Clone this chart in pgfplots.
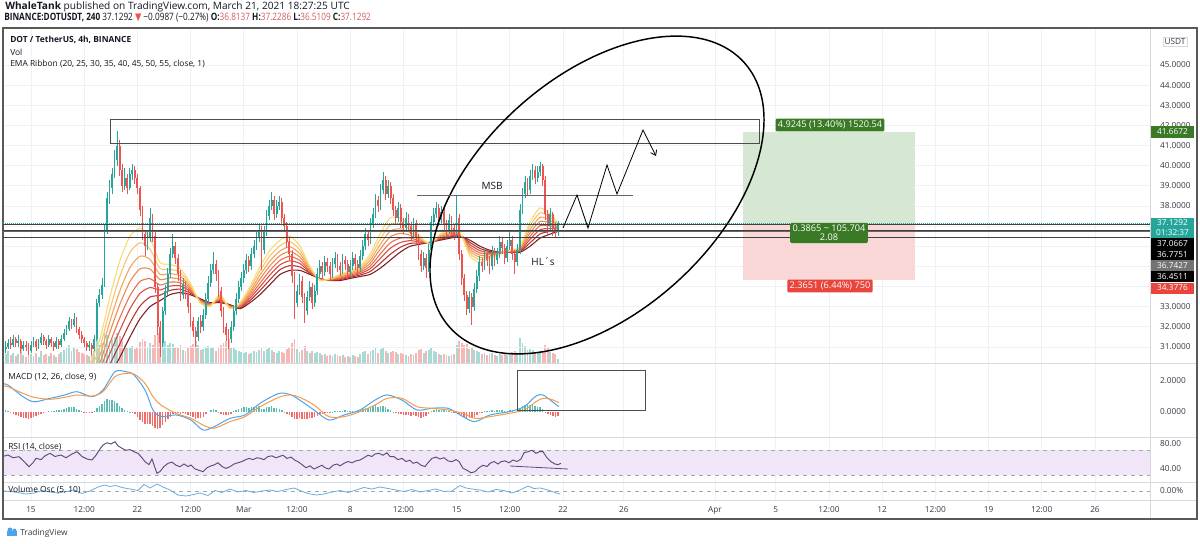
\documentclass[border=0pt]{standalone}
\usepackage{fontspec}
\setmainfont{Open Sans}
\newfontfamily\symfont{DejaVu Sans}
\usepackage{graphicx}
\usepackage{pgfplots}
\usepackage{pgfplotstable}
\pgfplotsset{compat=1.18}
\usetikzlibrary{arrows.meta}

\definecolor{upc}{HTML}{26A69A}
\definecolor{dnc}{HTML}{EF5350}
\definecolor{vup}{HTML}{A6DAD5}
\definecolor{vdn}{HTML}{F6B8B6}
\definecolor{gridc}{HTML}{EEF1F7}
\definecolor{sepc}{HTML}{D6D9E0}
\definecolor{txt}{HTML}{131722}
\definecolor{axt}{HTML}{363A45}
\definecolor{ohlc}{HTML}{D2605E}
\definecolor{posg}{HTML}{3A7A27}
\definecolor{posr}{HTML}{E8453C}
\definecolor{posgf}{HTML}{D6E7D3}
\definecolor{posrf}{HTML}{F9D7D6}
\definecolor{macdc}{HTML}{4FA3E8}
\definecolor{sigc}{HTML}{F59B4C}
\definecolor{rsic}{HTML}{5B4A7A}
\definecolor{rsif}{HTML}{F1E6F8}
\definecolor{voc}{HTML}{6AAED8}
\definecolor{ea}{HTML}{F7DC6F}
\definecolor{eb}{HTML}{F8C471}
\definecolor{ec}{HTML}{F5A55A}
\definecolor{ed}{HTML}{F08A4B}
\definecolor{ee}{HTML}{EB6E4B}
\definecolor{ef}{HTML}{DC4B43}
\definecolor{eg}{HTML}{B73333}
\definecolor{eh}{HTML}{7B1F1F}

\newcommand\axf{\fontsize{6.2}{7.4}\selectfont}
\newcommand\hdf{\fontsize{7.6}{9}\selectfont}
\newcommand\lgf{\fontsize{6.3}{7.6}\selectfont}
\newcommand\psf{\fontsize{6.9}{8}\selectfont}

% 4h candles: k = index of 4h bar from Feb 15 00:00, OHLC, volume (px), MACD histogram
\pgfplotstableread{
k o h l c v hist
-10 30.9 31.3 30.7 31.0 9 0.10
-9 31.0 31.4 30.9 31.2 12 0.05
-8 31.2 31.5 30.9 31.1 8 -0.05
-7 31.1 31.6 31.0 31.4 10 -0.12
-6 31.4 31.5 31.0 31.2 7 -0.20
-5 31.2 31.6 31.0 31.3 9 -0.28
-4 31.3 31.4 30.7 30.9 14 -0.35
-3 30.9 31.3 30.8 31.1 8 -0.38
-2 31.1 31.3 30.8 31.0 6 -0.40
-1 31.0 31.2 30.6 30.8 11 -0.42
0 30.8 31.3 30.7 31.1 9 -0.40
1 31.1 31.5 31.0 31.3 7 -0.35
2 31.3 31.4 30.8 31.0 10 -0.28
3 31.0 31.4 30.9 31.2 6 -0.20
4 31.2 31.7 31.1 31.5 12 -0.12
5 31.5 31.6 31.1 31.3 8 -0.05
6 31.3 31.4 30.9 31.1 9 0.00
7 31.1 31.6 31.0 31.4 7 0.05
8 31.4 31.5 31.0 31.2 10 0.08
9 31.2 31.3 30.8 31.0 8 0.06
10 31.0 31.5 30.9 31.3 6 0.10
11 31.3 31.4 30.9 31.1 9 0.12
12 31.1 31.6 31.0 31.4 11 0.15
13 31.4 31.9 31.3 31.7 13 0.20
14 31.7 32.1 31.6 31.9 15 0.25
15 31.9 32.5 31.8 32.3 18 0.30
16 32.3 32.4 31.9 32.1 12 0.32
17 32.1 32.7 32.0 32.4 16 0.30
18 32.4 32.5 31.7 31.9 14 0.22
19 31.9 32.0 31.4 31.6 11 0.12
20 31.6 31.8 31.2 31.4 10 0.05
21 31.4 31.5 31.0 31.2 9 -0.02
22 31.2 31.3 30.8 31.0 8 -0.06
23 31.0 31.3 30.8 31.1 7 -0.08
24 31.1 31.2 30.6 30.9 9 -0.06
25 30.9 31.6 30.8 31.4 12 0.05
26 31.4 33.4 31.3 33.2 24 0.25
27 33.2 33.9 33.0 33.6 18 0.40
28 33.6 34.4 33.4 34.1 20 0.50
29 34.1 37.1 34.0 36.8 30 0.70
30 36.8 38.7 36.6 38.4 28 0.85
31 38.4 39.3 38.1 38.9 22 0.80
32 38.9 39.9 38.6 39.6 24 0.75
33 39.6 40.8 39.4 40.3 26 0.70
34 40.3 41.7 40.0 41.0 30 0.60
35 41.0 41.3 39.5 39.8 27 0.40
36 39.8 40.1 38.7 39.0 22 0.25
37 39.0 39.9 38.8 39.4 18 0.15
38 39.4 39.6 38.6 38.9 16 0.05
39 38.9 39.9 38.8 39.6 15 0.02
40 39.6 40.1 39.3 39.8 17 -0.05
41 39.8 40.0 39.1 39.4 14 -0.15
42 39.4 39.6 38.6 38.9 16 -0.30
43 38.9 39.0 37.5 37.8 21 -0.50
44 37.8 38.0 36.3 36.6 24 -0.65
45 36.6 36.8 35.5 36.0 22 -0.75
46 36.0 36.7 35.8 36.4 16 -0.80
47 36.4 37.9 36.2 37.4 20 -0.78
48 37.4 37.6 36.2 36.5 18 -0.90
49 36.5 36.7 33.7 34.0 28 -1.05
50 34.0 34.2 31.6 32.0 30 -1.10
51 32.0 32.3 30.5 31.2 32 -1.00
52 31.2 33.0 31.0 32.8 26 -0.85
53 32.8 34.1 32.6 33.8 22 -0.65
54 33.8 34.9 33.6 34.6 18 -0.45
55 34.6 35.9 34.4 35.6 20 -0.30
56 35.6 36.6 35.4 36.0 19 -0.15
57 36.0 36.2 35.1 35.4 15 -0.10
58 35.4 35.6 34.3 34.6 16 -0.08
59 34.6 34.8 33.3 33.6 18 -0.10
60 33.6 34.4 33.4 34.1 13 -0.06
61 34.1 34.3 33.4 33.7 12 -0.10
62 33.7 33.9 32.7 33.0 15 -0.18
63 33.0 33.2 32.0 32.3 17 -0.25
64 32.3 32.5 31.5 31.8 19 -0.35
65 31.8 32.0 31.0 31.5 22 -0.45
66 31.5 32.5 31.3 32.3 18 -0.40
67 32.3 32.6 31.7 32.0 13 -0.38
68 32.0 32.9 31.8 32.6 14 -0.30
69 32.6 33.7 32.4 33.4 16 -0.15
70 33.4 34.5 33.2 34.2 17 0.00
71 34.2 35.1 34.0 34.8 15 0.12
72 34.8 35.7 34.6 35.1 16 0.18
73 35.1 35.3 34.3 34.6 12 0.12
74 34.6 34.8 33.5 33.8 15 0.02
75 33.8 34.0 32.5 32.8 18 -0.10
76 32.8 33.0 31.7 32.0 20 -0.18
77 32.0 32.2 31.3 31.6 22 -0.22
78 31.6 31.9 30.9 31.4 24 -0.20
79 31.4 32.3 31.2 32.0 16 -0.10
80 32.0 33.1 31.8 32.8 15 0.05
81 32.8 33.7 32.6 33.4 13 0.15
82 33.4 34.3 33.2 34.0 12 0.22
83 34.0 34.7 33.8 34.4 11 0.28
84 34.4 35.1 34.2 34.8 10 0.30
85 34.8 35.6 34.6 35.3 11 0.32
86 35.3 35.5 34.7 35.0 9 0.28
87 35.0 35.9 34.8 35.6 10 0.30
88 35.6 36.3 35.4 36.0 12 0.33
89 36.0 36.7 35.8 36.4 11 0.35
90 36.4 37.1 36.2 36.8 13 0.36
91 36.8 37.0 34.8 35.8 16 0.20
92 35.8 37.0 35.6 36.7 12 0.22
93 36.7 37.8 36.5 37.5 14 0.30
94 37.5 38.3 37.3 38.0 15 0.35
95 38.0 38.7 37.8 38.3 13 0.38
96 38.3 38.5 37.3 37.6 11 0.28
97 37.6 38.3 37.4 38.0 10 0.25
98 38.0 38.5 37.8 38.2 12 0.22
99 38.2 38.4 37.1 37.4 11 0.12
100 37.4 37.6 36.7 37.0 10 0.02
101 37.0 37.2 35.9 36.2 14 -0.10
102 36.2 36.4 35.3 35.6 16 -0.22
103 35.6 35.8 34.2 34.5 20 -0.35
104 34.5 34.7 32.4 33.2 24 -0.48
105 33.2 34.1 33.0 33.8 14 -0.45
106 33.8 34.6 33.6 34.3 11 -0.40
107 34.3 34.5 33.2 33.5 13 -0.42
108 33.5 33.7 32.2 32.8 17 -0.48
109 32.8 33.8 32.6 33.5 12 -0.42
110 33.5 34.3 33.3 34.0 10 -0.36
111 34.0 34.2 32.9 33.2 12 -0.38
112 33.2 34.1 33.0 33.8 10 -0.35
113 33.8 34.9 33.6 34.6 11 -0.25
114 34.6 35.3 34.4 35.0 10 -0.15
115 35.0 35.2 34.4 34.7 8 -0.12
116 34.7 35.5 34.5 35.2 9 -0.05
117 35.2 35.4 34.7 35.0 7 -0.03
118 35.0 35.2 34.3 34.6 8 -0.05
119 34.6 35.4 34.4 35.1 7 0.02
120 35.1 35.7 34.9 35.4 9 0.08
121 35.4 35.6 34.7 35.0 8 0.06
122 35.0 35.2 34.5 34.8 7 0.04
123 34.8 35.6 34.6 35.3 8 0.08
124 35.3 35.5 34.8 35.1 6 0.10
125 35.1 35.3 34.4 34.7 7 0.06
126 34.7 35.3 34.5 35.0 6 0.05
127 35.0 35.7 34.8 35.4 8 0.08
128 35.4 35.6 34.8 35.1 7 0.07
129 35.1 35.3 34.6 34.9 6 0.05
130 34.9 35.8 34.7 35.5 9 0.12
131 35.5 36.3 35.3 36.0 11 0.20
132 36.0 36.9 35.8 36.6 12 0.28
133 36.6 36.8 36.0 36.3 9 0.25
134 36.3 37.4 36.1 37.1 12 0.32
135 37.1 37.9 36.9 37.6 13 0.38
136 37.6 38.6 37.4 38.3 15 0.42
137 38.3 38.5 37.7 38.0 10 0.35
138 38.0 39.1 37.8 38.8 14 0.38
139 38.8 39.7 38.6 39.3 16 0.40
140 39.3 39.5 38.3 38.6 12 0.30
141 38.6 39.3 38.4 39.0 10 0.22
142 39.0 39.2 38.1 38.4 11 0.12
143 38.4 38.6 37.5 37.8 12 0.02
144 37.8 38.0 37.1 37.4 11 -0.08
145 37.4 38.2 37.2 37.9 9 -0.10
146 37.9 38.1 36.9 37.2 10 -0.15
147 37.2 37.4 36.6 36.9 9 -0.20
148 36.9 37.7 36.7 37.4 8 -0.18
149 37.4 37.6 36.7 37.0 7 -0.20
150 37.0 37.2 36.3 36.6 9 -0.24
151 36.6 37.4 36.4 37.1 8 -0.20
152 37.1 37.3 36.1 36.4 10 -0.25
153 36.4 36.6 35.3 35.6 13 -0.32
154 35.6 35.8 34.7 35.0 14 -0.36
155 35.0 35.7 34.8 35.4 10 -0.30
156 35.4 35.6 34.4 34.9 12 -0.28
157 34.9 36.1 34.7 35.8 13 -0.15
158 35.8 37.5 35.6 37.2 16 0.05
159 37.2 37.9 37.0 37.6 12 0.15
160 37.6 38.2 37.4 37.9 11 0.20
161 37.9 38.1 37.0 37.3 9 0.15
162 37.3 38.0 37.1 37.7 8 0.15
163 37.7 37.9 36.8 37.1 9 0.10
164 37.1 37.3 36.5 36.8 8 0.05
165 36.8 37.6 36.6 37.3 7 0.06
166 37.3 37.5 36.6 36.9 8 0.03
167 36.9 37.1 36.3 36.6 9 -0.02
168 36.6 38.5 36.4 37.4 18 0.02
169 37.4 37.6 35.3 35.6 22 -0.12
170 35.6 35.8 34.1 34.4 20 -0.25
171 34.4 34.6 33.3 33.6 18 -0.35
172 33.6 33.8 32.6 32.9 19 -0.42
173 32.9 33.8 32.7 33.5 14 -0.40
174 33.5 33.7 32.1 33.0 16 -0.38
175 33.0 34.2 32.8 33.9 13 -0.30
176 33.9 34.8 33.7 34.5 12 -0.20
177 34.5 35.5 34.3 35.2 11 -0.08
178 35.2 35.4 34.7 35.0 9 -0.02
179 35.0 35.9 34.8 35.6 10 0.06
180 35.6 35.8 35.0 35.3 8 0.08
181 35.3 35.5 34.6 35.0 9 0.06
182 35.0 36.0 34.8 35.7 10 0.10
183 35.7 35.9 35.0 35.3 8 0.08
184 35.3 35.9 35.1 35.6 7 0.10
185 35.6 36.5 35.4 36.2 9 0.14
186 36.2 36.4 35.6 35.9 8 0.12
187 35.9 36.1 35.1 35.4 9 0.06
188 35.4 36.3 35.2 36.0 8 0.08
189 36.0 36.8 35.8 36.3 10 0.12
190 36.3 36.5 35.3 35.6 11 0.06
191 35.6 35.8 34.6 35.2 12 0.00
192 35.2 36.1 35.0 35.8 10 0.05
193 35.8 38.1 35.6 37.8 25 0.25
194 37.8 38.9 37.6 38.6 20 0.38
195 38.6 39.5 38.4 39.2 17 0.45
196 39.2 39.4 38.5 38.8 13 0.42
197 38.8 39.8 38.6 39.5 14 0.45
198 39.5 40.1 39.3 39.8 13 0.48
199 39.8 40.0 39.1 39.4 11 0.40
200 39.4 40.0 39.2 39.7 10 0.35
201 39.7 40.2 39.5 40.0 12 0.32
202 40.0 40.1 39.0 39.3 11 0.20
203 39.3 39.5 37.3 37.6 18 -0.02
204 37.6 37.8 36.6 37.0 15 -0.15
205 37.0 37.9 36.8 37.6 11 -0.18
206 37.6 37.7 36.5 36.9 10 -0.25
207 36.9 37.2 36.4 36.81 9 -0.30
208 36.81 37.23 36.51 37.13 4 -0.28
}\candles

% EMA ribbon (px = horizontal pixel position of the sample)
\pgfplotstableread{
px e20 e25 e30 e35 e40 e45 e50 e55
90 30.20 29.85 29.52 29.21 28.90 28.62 28.31 28.00
100 31.40 30.98 30.59 30.23 29.87 29.53 29.16 28.80
110 33.50 32.88 32.29 31.75 31.20 30.69 30.15 29.60
120 35.30 34.53 33.81 33.14 32.47 31.84 31.17 30.50
130 36.50 35.70 34.95 34.25 33.55 32.90 32.20 31.50
140 36.90 36.18 35.51 34.88 34.25 33.66 33.03 32.40
150 36.40 35.86 35.35 34.87 34.39 33.95 33.48 33.00
160 35.20 34.90 34.61 34.35 34.08 33.83 33.57 33.30
170 35.10 34.86 34.64 34.43 34.22 34.02 33.81 33.60
180 34.90 34.71 34.53 34.36 34.19 34.04 33.87 33.70
190 34.20 34.10 34.01 33.93 33.85 33.77 33.68 33.60
200 33.20 33.23 33.26 33.29 33.32 33.34 33.37 33.40
210 33.00 33.03 33.06 33.09 33.12 33.14 33.17 33.20
220 33.60 33.54 33.48 33.42 33.36 33.31 33.26 33.20
230 32.90 32.93 32.96 32.99 33.02 33.04 33.07 33.10
240 33.20 33.15 33.11 33.07 33.02 32.98 32.94 32.90
250 34.00 33.87 33.75 33.64 33.53 33.42 33.31 33.20
260 35.00 34.78 34.57 34.37 34.17 33.99 33.80 33.60
270 35.80 35.53 35.27 35.04 34.80 34.58 34.34 34.10
280 36.30 36.03 35.77 35.54 35.30 35.08 34.84 34.60
290 36.50 36.23 35.97 35.74 35.50 35.28 35.04 34.80
300 36.00 35.81 35.63 35.46 35.29 35.14 34.97 34.80
310 35.00 34.94 34.88 34.82 34.76 34.71 34.66 34.60
320 34.30 34.32 34.33 34.35 34.36 34.37 34.39 34.40
330 34.40 34.38 34.37 34.36 34.34 34.33 34.31 34.30
340 34.60 34.55 34.51 34.47 34.42 34.38 34.34 34.30
350 34.80 34.74 34.68 34.62 34.56 34.51 34.46 34.40
360 35.00 34.92 34.85 34.78 34.71 34.64 34.57 34.50
370 35.60 35.44 35.29 35.15 35.01 34.88 34.74 34.60
380 36.60 36.33 36.07 35.84 35.60 35.38 35.14 34.90
390 37.40 37.06 36.75 36.46 36.16 35.89 35.59 35.30
400 37.40 37.13 36.87 36.64 36.40 36.18 35.94 35.70
410 37.00 36.84 36.69 36.55 36.41 36.28 36.14 36.00
420 36.50 36.44 36.38 36.32 36.26 36.21 36.16 36.10
430 36.10 36.12 36.13 36.15 36.16 36.17 36.19 36.20
440 36.60 36.55 36.51 36.47 36.42 36.38 36.34 36.30
450 36.80 36.74 36.68 36.62 36.56 36.51 36.46 36.40
460 36.70 36.67 36.64 36.61 36.58 36.56 36.53 36.50
470 35.50 35.63 35.75 35.86 35.97 36.08 36.19 36.30
480 35.20 35.33 35.45 35.56 35.67 35.78 35.89 36.00
490 35.40 35.46 35.52 35.58 35.64 35.69 35.74 35.80
500 35.60 35.62 35.63 35.65 35.66 35.67 35.69 35.70
510 35.80 35.78 35.77 35.76 35.74 35.73 35.71 35.70
520 36.00 35.95 35.91 35.87 35.82 35.78 35.74 35.70
530 37.20 37.01 36.83 36.66 36.49 36.34 36.17 36.00
540 37.90 37.66 37.44 37.23 37.02 36.82 36.61 36.40
550 37.60 37.44 37.29 37.15 37.01 36.88 36.74 36.60
559 37.10 37.04 36.99 36.94 36.89 36.85 36.80 36.75
}\ribbon

\pgfplotstableread{
px m s
3 1.80 1.68
8 1.74 1.63
23 0.99 1.20
34 0.66 0.95
50 0.88 0.82
65 1.10 0.95
77 1.31 1.10
92 0.99 1.03
103 1.42 1.31
115 2.60 2.28
126 2.60 2.49
134 2.39 2.45
145 1.42 1.85
153 0.13 0.99
161 -0.30 0.45
176 -0.19 -0.09
191 -0.52 -0.41
203 -1.16 -0.84
214 -0.95 -1.05
230 -0.41 -0.62
245 -0.19 -0.30
260 0.56 0.34
279 1.20 0.95
291 1.10 1.10
302 0.67 0.88
314 0.13 0.45
329 -0.52 -0.30
344 -0.19 -0.30
360 0.13 0.02
375 0.77 0.45
387 1.10 0.88
402 0.77 0.88
417 0.13 0.34
432 0.24 0.24
448 0.24 0.13
463 -0.30 -0.09
475 -0.62 -0.41
490 -0.19 -0.30
509 0.02 -0.09
524 0.34 0.13
536 1.03 0.67
543 1.10 0.88
551 0.73 0.82
559 0.34 0.60
}\macd

\pgfplotstableread{
px r
3 60
8 62.4
13 58
19 59.7
24 52
29 43.7
33 50
36 57.1
41 55
45 61
50 65.1
55 60
61 62.4
66 58
72 64
77 67.7
82 60
87 56
92 54.4
96 62
100 72
103 78.4
107 82
111 80
115 83.7
118 77
122 73.1
126 70
130 71
134 67.7
138 65
142 58
145 51.7
149 47
152 56
155 42
157 33.1
160 36
164 44
168 49.1
172 51
176 46
180 43.7
184 48
188 44
191 46.4
195 40
199 38
203 35.7
207 42
211 45
214 46.4
218 50
222 44
226 41
230 43.7
234 48
238 50
242 52
245 54.4
249 57
253 55
257 58
260 57.1
264 55
268 60
272 61
276 58
279 59.7
283 62
287 57
291 59
295 54
298 51.7
302 47
306 42
310 45
314 40
318 43
322 46
325 42
329 40
333 46
337 48
340 45
344 49.1
348 52
352 50
356 53
360 54.4
364 58
368 62
372 60
375 64
379 65.1
383 62
387 66
390 60
394 59.7
398 55
402 57
406 52
410 54
413 49.1
417 51
421 46
425 44
428 50
432 57.1
436 59
440 56
444 58
448 53
452 51.7
456 55
459 52
463 41.1
467 38
471 34
475 35.7
479 42
483 46
487 44
490 49.1
494 52
498 48
501 51.7
505 53
509 50
513 54.4
517 52
521 56
524 66
528 67.7
532 70
536 65.1
540 68
543 67.7
547 58
551 51.7
555 48
558 47
561 49.1
}\rsi

\pgfplotstableread{
px vo
3 0
10 -5
18 -15
26 -30
34 -20
42 5
50 -10
58 -20
66 -5
74 10
82 -25
90 0
98 40
104 60
110 45
116 55
122 35
130 20
138 5
144 65
150 30
157 70
163 40
170 10
178 -40
186 -50
194 -35
200 -20
208 -45
215 5
222 -15
230 20
238 -10
246 5
254 -15
262 0
270 10
278 -5
286 15
294 30
300 5
308 -25
316 -40
324 -30
332 -10
340 5
348 -15
356 10
364 35
372 20
380 40
388 25
396 10
404 -5
412 15
420 -10
428 5
436 20
444 -5
452 0
460 55
466 30
472 20
480 10
488 -10
496 15
504 5
512 -20
520 10
528 50
534 25
540 30
548 10
555 -15
560 -30
}\volosc

\pgfplotsset{
  tvpanel/.style={
    scale only axis, width=860.25pt, anchor=north west,
    xmin=-1.842, xmax=73.62,
    axis line style={draw=none},
    major tick length=0pt,
    xtick={0,3.5,7,10.5,14,17.5,21,24.5,28,31.5,35,39,45,49,52.5,56,59.5,63,66.5,70},
    xmajorgrids,
    grid style={draw=gridc, line width=0.6pt},
    yticklabel pos=right,
    yticklabel style={font=\axf, text=axt, anchor=west, xshift=4pt},
  },
  nox/.style={xticklabels={,,,,,,,,,,,,,,,,,,,,}},
}

\begin{document}
\begin{tikzpicture}
\fill[white] (0,0) rectangle (900pt,-407.25pt);
\path[use as bounding box] (0,0) rectangle (900pt,-407.25pt);

% ---------- volume (bottom of main pane)
\begin{axis}[tvpanel, nox, at={(2.25pt,-21pt)}, height=251.25pt,
  ymin=0, ymax=335, ytick=\empty]
\addplot[ycomb, vup, line width=1.4pt, mark=none,
  restrict expr to domain={\thisrow{c}-\thisrow{o}}{0:100}]
  table[x expr=\thisrow{k}/6, y=v] {\candles};
\addplot[ycomb, vdn, line width=1.4pt, mark=none,
  restrict expr to domain={\thisrow{c}-\thisrow{o}}{-100:-0.00001}]
  table[x expr=\thisrow{k}/6, y=v] {\candles};
\end{axis}

% ---------- main price pane
\begin{axis}[tvpanel, nox, at={(2.25pt,-21pt)}, height=251.25pt,
  xmajorgrids=false, ymajorgrids,
  ymin=30.204, ymax=46.837,
  ytick={31,32,33,34,35,36,37,38,39,40,41,42,43,44,45},
  yticklabels={31.0000,32.0000,33.0000,,,,,38.0000,39.0000,40.0000,41.0000,42.0000,43.0000,44.0000,45.0000}]
\addplot[eh, line width=0.8pt, smooth, tension=0.4] table[x expr=(\thisrow{px}-31)/15.2, y=e55] {\ribbon};
\addplot[eg, line width=0.8pt, smooth, tension=0.4] table[x expr=(\thisrow{px}-31)/15.2, y=e50] {\ribbon};
\addplot[ef, line width=0.8pt, smooth, tension=0.4] table[x expr=(\thisrow{px}-31)/15.2, y=e45] {\ribbon};
\addplot[ee, line width=0.8pt, smooth, tension=0.4] table[x expr=(\thisrow{px}-31)/15.2, y=e40] {\ribbon};
\addplot[ed, line width=0.8pt, smooth, tension=0.4] table[x expr=(\thisrow{px}-31)/15.2, y=e35] {\ribbon};
\addplot[ec, line width=0.8pt, smooth, tension=0.4] table[x expr=(\thisrow{px}-31)/15.2, y=e30] {\ribbon};
\addplot[eb, line width=0.8pt, smooth, tension=0.4] table[x expr=(\thisrow{px}-31)/15.2, y=e25] {\ribbon};
\addplot[ea, line width=0.8pt, smooth, tension=0.4] table[x expr=(\thisrow{px}-31)/15.2, y=e20] {\ribbon};
% wicks
\addplot[upc, line width=0.55pt, mark=none, quiver={u=0, v=\thisrow{h}-\thisrow{l}},
  restrict expr to domain={\thisrow{c}-\thisrow{o}}{0:100}]
  table[x expr=\thisrow{k}/6, y=l] {\candles};
\addplot[dnc, line width=0.55pt, mark=none, quiver={u=0, v=\thisrow{h}-\thisrow{l}},
  restrict expr to domain={\thisrow{c}-\thisrow{o}}{-100:-0.00001}]
  table[x expr=\thisrow{k}/6, y=l] {\candles};
% bodies
\addplot[upc, line width=1.35pt, mark=none, quiver={u=0, v={max(abs(\thisrow{c}-\thisrow{o}),0.05)}},
  restrict expr to domain={\thisrow{c}-\thisrow{o}}{0:100}]
  table[x expr=\thisrow{k}/6, y expr={min(\thisrow{o},\thisrow{c})}] {\candles};
\addplot[dnc, line width=1.35pt, mark=none, quiver={u=0, v={max(abs(\thisrow{c}-\thisrow{o}),0.05)}},
  restrict expr to domain={\thisrow{c}-\thisrow{o}}{-100:-0.00001}]
  table[x expr=\thisrow{k}/6, y expr={min(\thisrow{o},\thisrow{c})}] {\candles};
\end{axis}

% ---------- MACD pane
\begin{axis}[tvpanel, nox, at={(2.25pt,-272.25pt)}, height=55.5pt,
  ymin=-1.613, ymax=3.161, ytick={0,2}, yticklabels={0.0000,2.0000}]
\addplot[ycomb, upc!75, line width=1.1pt, mark=none,
  restrict expr to domain={\thisrow{hist}}{0:10}]
  table[x expr=\thisrow{k}/6, y=hist] {\candles};
\addplot[ycomb, dnc!85, line width=1.1pt, mark=none,
  restrict expr to domain={\thisrow{hist}}{-10:-0.00001}]
  table[x expr=\thisrow{k}/6, y=hist] {\candles};
\addplot[macdc, line width=0.75pt, smooth, tension=0.5] table[x expr=(\thisrow{px}-31)/15.2, y=m] {\macd};
\addplot[sigc, line width=0.75pt, smooth, tension=0.5] table[x expr=(\thisrow{px}-31)/15.2, y=s] {\macd};
\end{axis}

% ---------- RSI pane
\begin{axis}[tvpanel, nox, at={(2.25pt,-327.75pt)}, height=33.75pt,
  ymin=19.2, ymax=91.2, ytick={40,80}, yticklabels={40.00,80.00}]
\fill[rsif] (axis cs:-1.842,30) rectangle (axis cs:73.62,70);
\draw[gray!70, dashed, line width=0.5pt] (axis cs:-1.842,70) -- (axis cs:73.62,70);
\draw[gray!70, dashed, line width=0.5pt] (axis cs:-1.842,30) -- (axis cs:73.62,30);
\addplot[rsic, line width=0.7pt] table[x expr=(\thisrow{px}-31)/15.2, y=r] {\rsi};
\end{axis}

% ---------- Volume oscillator pane + time axis
\begin{axis}[tvpanel, at={(2.25pt,-361.5pt)}, height=13.5pt,
  ymin=-90, ymax=90, ytick={0}, yticklabels={0.00\%},
  xticklabels={15,12:00,22,12:00,Mar,12:00,8,12:00,15,12:00,22,26,Apr,5,12:00,12,12:00,19,12:00,26},
  xticklabel style={font=\axf, text=axt, yshift=-1.5pt}]
\draw[gray!70, dashed, line width=0.5pt] (axis cs:-1.842,0) -- (axis cs:73.62,0);
\addplot[voc, line width=0.6pt] table[x expr=(\thisrow{px}-31)/15.2, y=vo] {\volosc};
\end{axis}

% ---------- drawings and labels (pixel coordinates, y downwards)
\begin{scope}[x=0.75pt, y=-0.75pt]
% frame and separators
\draw[sepc, line width=0.7pt] (3,363) -- (1197,363);
\draw[sepc, line width=0.7pt] (3,437) -- (1197,437);
\draw[sepc, line width=0.7pt] (3,482) -- (1197,482);
\draw[sepc, line width=0.7pt] (3,500) -- (1197,500);
\draw[sepc, line width=0.7pt] (1150,28) -- (1150,519);
\draw[black!65, line width=0.8pt] (3,28) rectangle (1197,519);

% header
\node[anchor=west, inner sep=0, font=\hdf, text=txt] at (5,7) {\textbf{WhaleTank} published on TradingView.com, March 21, 2021 18:27:25 UTC};
\node[anchor=west, inner sep=0, text=txt] at (4,18) {\resizebox{275pt}{\height}{\hdf\textbf{BINANCE:DOTUSDT, 240} 37.1292 {\color{dnc}\symfont ▼} −0.0987 (−0.27\%) \textbf{O:}\textcolor{ohlc}{36.8137} \textbf{H:}\textcolor{ohlc}{37.2286} \textbf{L:}\textcolor{ohlc}{36.5109} \textbf{C:}\textcolor{ohlc}{37.1292}}};

% pane legends
\node[anchor=west, inner sep=0, font=\lgf, text=txt] at (10,40) {\textbf{DOT / TetherUS, 4h, BINANCE}};
\node[anchor=west, inner sep=0, font=\lgf, text=txt] at (10,52) {Vol};
\node[anchor=west, inner sep=0, font=\lgf, text=txt] at (10,64) {EMA Ribbon (20, 25, 30, 35, 40, 45, 50, 55, close, 1)};
\node[anchor=west, inner sep=0, font=\lgf, text=txt] at (8,377) {MACD (12, 26, close, 9)};
\node[anchor=west, inner sep=0, font=\lgf, text=txt] at (8,447) {RSI (14, close)};
\node[anchor=west, inner sep=0, font=\lgf, text=txt] at (8,490) {Volume Osc (5, 10)};

% long position tool
\fill[posgf] (743,132) rectangle (915,224);
\fill[posrf] (743,224) rectangle (915,280);

% horizontal levels
\draw[upc, line width=0.5pt, densely dotted] (3,223.5) -- (1150,223.5);
\draw[black!75, line width=0.55pt] (3,224.8) -- (1150,224.8);
\draw[black!75, line width=0.55pt] (3,230.7) -- (1150,230.7);
\draw[black!60, line width=0.5pt] (3,231.4) -- (1150,231.4);
\draw[black!75, line width=0.55pt] (3,237.2) -- (1150,237.2);

% resistance box
\draw[black!70, line width=0.6pt] (110,119) rectangle (759,143);

% ellipse
\draw[black, line width=1.1pt, rotate around={42:(597,195)}] (597,195) ellipse [x radius=198, y radius=118];

% MSB / HL's / projected path
\draw[black!60, line width=0.5pt] (417,195) -- (633,195);
\node[font=\fontsize{7.5}{9}\selectfont, text=txt] at (492,186) {MSB};
\node[font=\fontsize{7.5}{9}\selectfont, text=txt] at (543,262) {HL´s};
\draw[black, line width=0.6pt, -{Straight Barb[length=3.5pt,width=5pt]}] (563,228) -- (577,195) -- (588,228) -- (607,165) -- (617,194) -- (643,130) -- (656,156);

% position tool labels
\node[fill=posg, text=white, font=\psf, inner sep=1.8pt, rounded corners=1pt] at (830,125) {4.9245 (13.40\%) 1520.54};
\node[fill=posg, text=white, font=\psf, inner sep=1.8pt, rounded corners=1pt, align=center] at (829,233) {0.3865 \textasciitilde{} 105.704\\[-1.5pt]2.08};
\node[fill=posr, text=white, font=\psf, inner sep=1.8pt, rounded corners=1pt] at (830,286) {2.3651 (6.44\%) 750};

% MACD / RSI drawings
\draw[black!70, line width=0.6pt] (517,370) rectangle (645,410);
\draw[rsic, line width=0.6pt] (510,466) -- (568,469);

% price scale labels
\node[draw=sepc, fill=white, font=\axf, inner sep=1.2pt, text=axt] at (1175,42) {USDT};
\fill[posg] (1151,125.5) rectangle (1194,137.5);
\node[text=white, font=\axf, inner sep=0] at (1172.5,131.5) {41.6672};
\fill[upc] (1151,218) rectangle (1194,238);
\node[text=white, font=\axf, inner sep=0] at (1172.5,223) {37.1292};
\node[text=white, font=\axf, inner sep=0] at (1172.5,233) {01:32:37};
\fill[black] (1151,238) rectangle (1194,249);
\node[text=white, font=\axf, inner sep=0] at (1172.5,243.5) {37.0667};
\fill[black] (1151,249) rectangle (1194,260);
\node[text=white, font=\axf, inner sep=0] at (1172.5,254.5) {36.7751};
\fill[black!55] (1151,260) rectangle (1194,271);
\node[text=white, font=\axf, inner sep=0] at (1172.5,265.5) {36.7427};
\fill[black] (1151,271) rectangle (1194,282);
\node[text=white, font=\axf, inner sep=0] at (1172.5,276.5) {36.4511};
\fill[posr] (1151,282.5) rectangle (1194,293.5);
\node[text=white, font=\axf, inner sep=0] at (1172.5,288) {34.3776};

% TradingView logo
\fill[macdc] (7,536) rectangle (17,531);
\fill[macdc] (10,530) circle (2.5);
\fill[macdc] (14.5,530.5) circle (2);
\node[anchor=west, inner sep=0, font=\lgf, text=axt] at (20,533) {TradingView};
\end{scope}
\end{tikzpicture}
\end{document}
